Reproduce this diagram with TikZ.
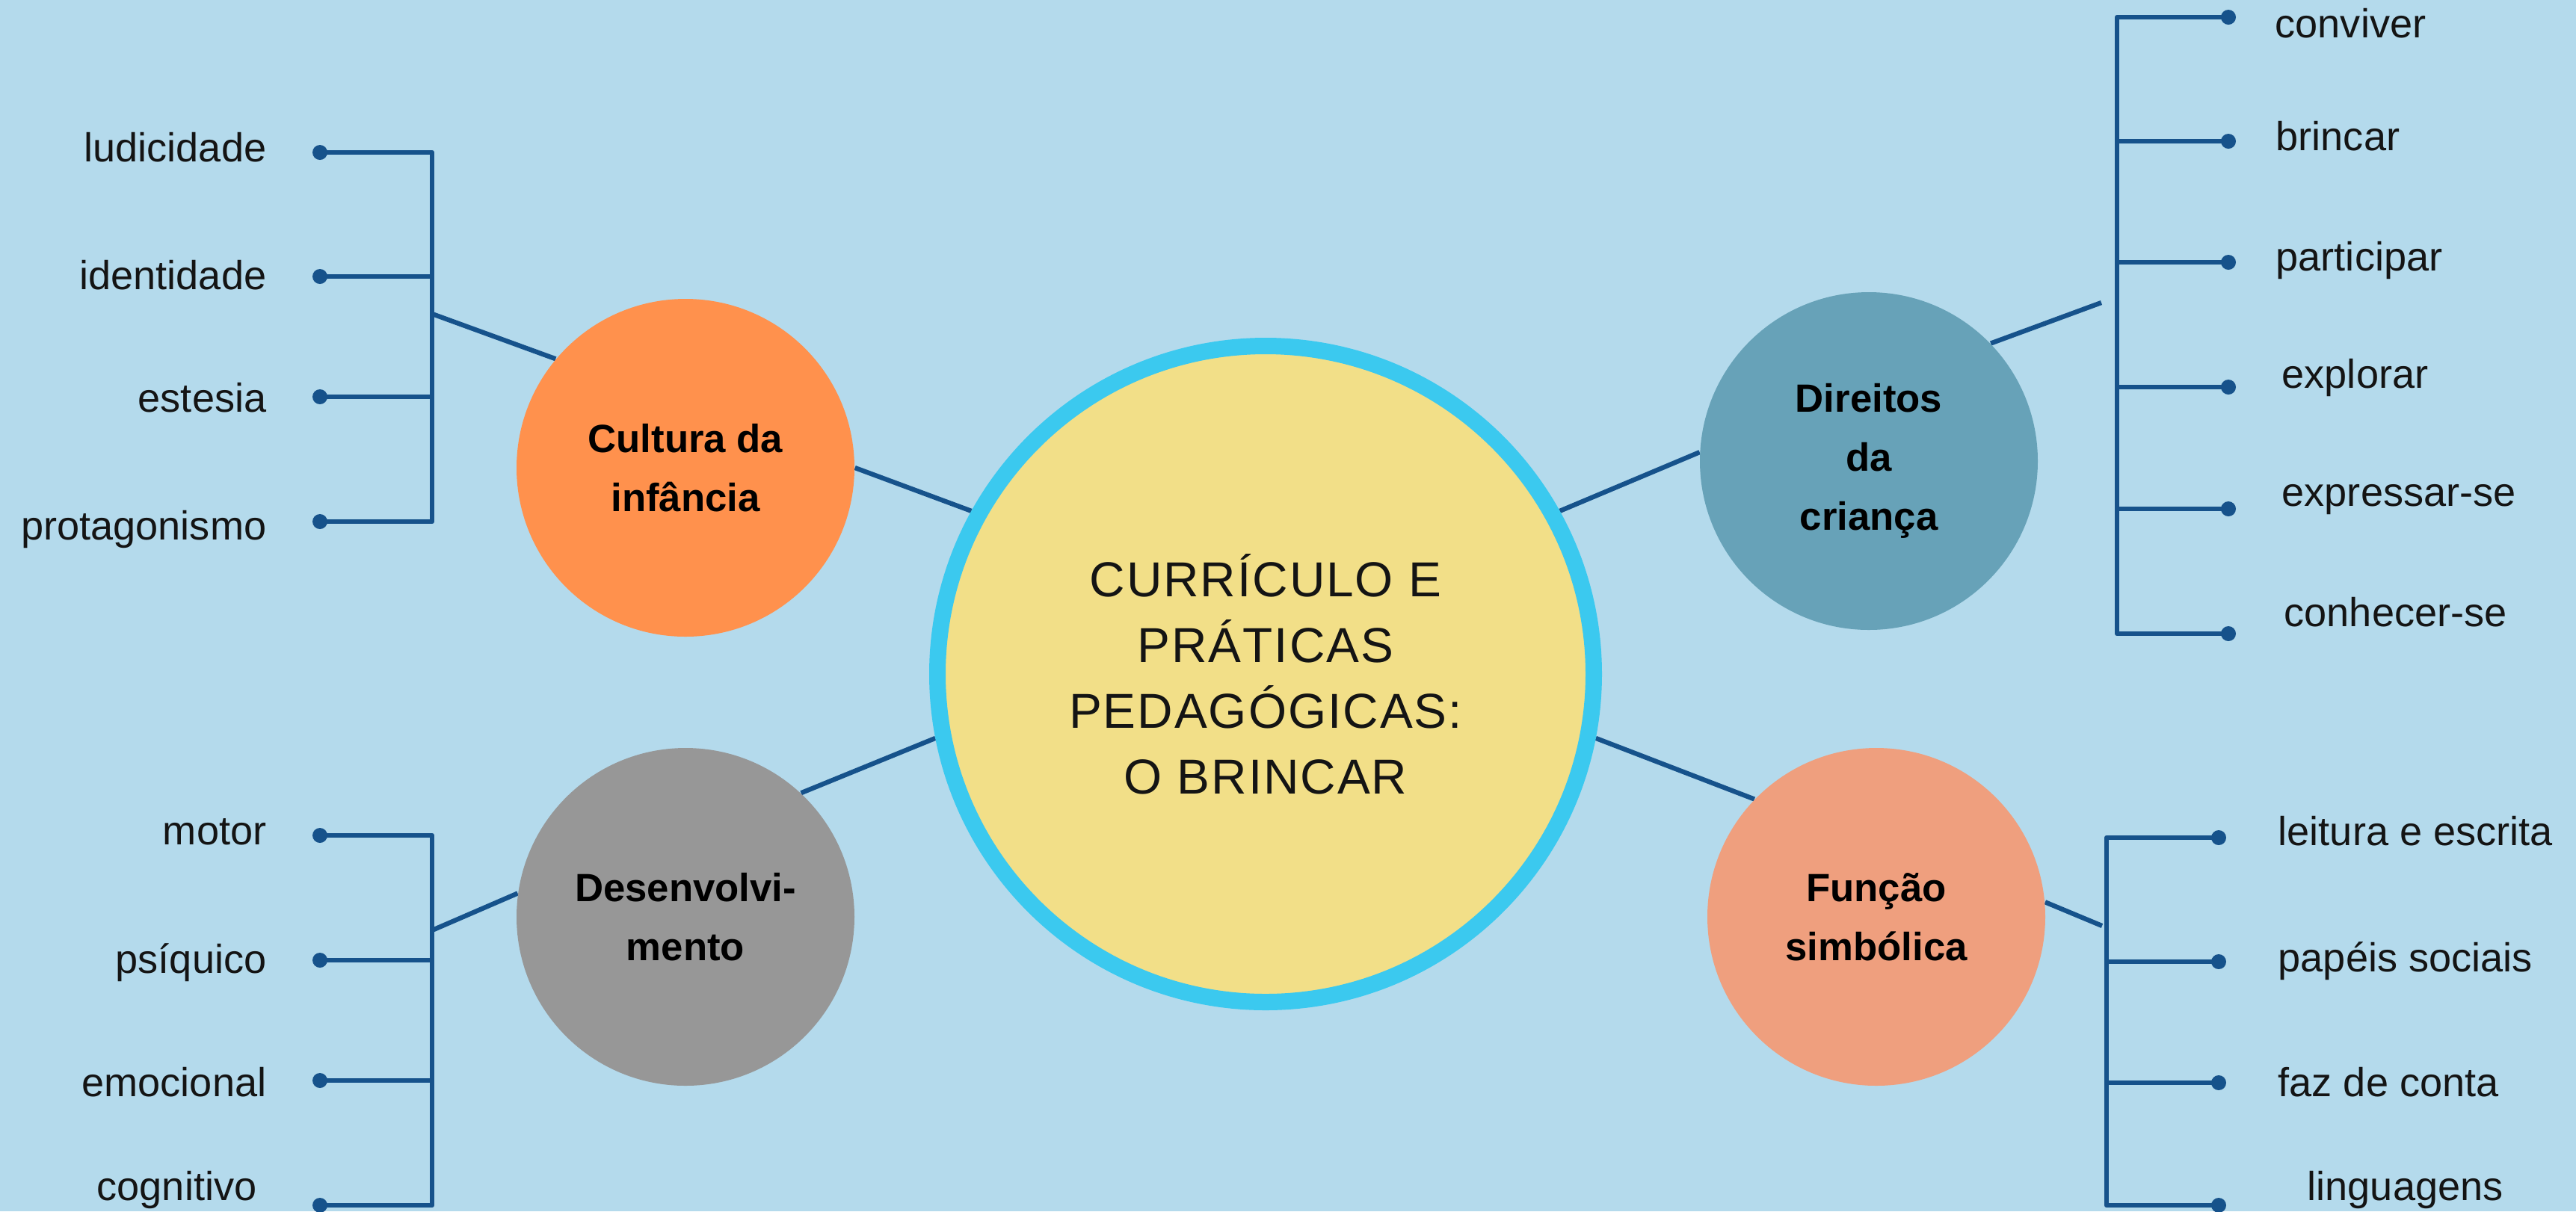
\documentclass[tikz,border=0pt]{standalone}
\usepackage{fontspec}
\setmainfont{Liberation Sans}
\newfontfamily\hubfont[LetterSpace=3]{Liberation Sans}
\definecolor{bg_c}{rgb}{
	0.706, 0.855, 0.925
	}
\definecolor{hub_c}{rgb}{
	0.949, 0.875, 0.533
	}
\definecolor{ring_c}{rgb}{
	0.231, 0.788, 0.937
	}
\definecolor{line_c}{rgb}{
	0.086, 0.322, 0.545
	}
\definecolor{cult_c}{rgb}{
	1.0, 0.569, 0.302
	}
\definecolor{dir_c}{rgb}{
	0.404, 0.635, 0.722
	}
\definecolor{dev_c}{rgb}{
	0.592, 0.592, 0.592
	}
\definecolor{fun_c}{rgb}{
	0.937, 0.624, 0.494
	}
\definecolor{txt_c}{rgb}{
	0.08, 0.08, 0.08
	}
\usetikzlibrary{backgrounds}

\begin{document}
\begin{tikzpicture}[
			hub/.style = {circle, draw=ring_c, line width=0.22cm, fill=hub_c, minimum size=8.78cm, inner sep=0pt, align=center, text=txt_c, font=\hubfont\fontsize{18.7}{25}\selectfont},
			topic/.style = {circle, minimum size=4.52cm, inner sep=0pt, align=center, text=black, font=\bfseries\fontsize{15}{22.5}\selectfont},
			bullet/.style = {circle, fill=line_c, minimum size=0.20cm, inner sep=0pt},
			leaf/.style = {text=txt_c, font=\fontsize{15.4}{18}\selectfont, inner sep=0pt, yshift=-0.05cm},
			link/.style = {line_c, line width=0.063cm, line join=round},
			]
			\useasboundingbox (0,0) rectangle (34.46,-16.21);
			% circles
			\node[hub] (ctr) at (16.93,-9.02) {CURRÍCULO E\\PRÁTICAS\\PEDAGÓGICAS:\\O BRINCAR};
			\node[topic, fill=cult_c] (cult) at (9.17,-6.26) {Cultura da\\infância};
			\node[topic, fill=dev_c] (dev) at (9.17,-12.27) {Desenvolvi-\\mento};
			\node[topic, fill=dir_c] (dir) at (25.00,-6.17) {Direitos\\da\\criança};
			\node[topic, fill=fun_c] (fun) at (25.10,-12.27) {Função\\simbólica};
			% Cultura da infancia
			\coordinate (cs) at (5.78,-2.04);
			\coordinate (ce) at (5.78,-6.98);
			\coordinate (cj) at (5.78,-4.20);
			\foreach \i/\y/\ly/\lbl in {1/2.04/2.02/ludicidade, 2/3.70/3.73/identidade, 3/5.31/5.37/estesia, 4/6.98/7.08/protagonismo}{
				\node[bullet] (cd\i) at (4.28,-\y) {};
				\node[leaf, anchor=mid east] (cl\i) at (3.57,-\ly) {\lbl};
				\draw[link] (cd\i.center) -- (cd\i.center -| cs);
			}
			\draw[link] (cd1.center) -- (cs) -- (ce) -- (cd4.center);
			% Desenvolvimento
			\coordinate (ds) at (5.78,-11.18);
			\coordinate (de) at (5.78,-16.13);
			\coordinate (dj) at (5.78,-12.45);
			\foreach \i/\y/\lx/\ly/\lbl in {1/11.18/3.57/11.16/motor, 2/12.85/3.57/12.88/psíquico, 3/14.46/3.57/14.53/emocional, 4/16.13/3.44/15.92/cognitivo}{
				\node[bullet] (dd\i) at (4.28,-\y) {};
				\node[leaf, anchor=mid east] (dl\i) at (\lx,-\ly) {\lbl};
				\draw[link] (dd\i.center) -- (dd\i.center -| ds);
			}
			\draw[link] (dd1.center) -- (ds) -- (de) -- (dd4.center);
			% Direitos da crianca
			\coordinate (rs) at (28.32,-0.23);
			\coordinate (re) at (28.32,-8.48);
			\coordinate (rj) at (28.11,-4.05);
			\foreach \i/\y/\lx/\ly/\lbl in {1/0.23/30.43/0.36/conviver, 2/1.89/30.44/1.87/brincar, 3/3.51/30.44/3.48/participar, 4/5.18/30.52/5.05/explorar, 5/6.81/30.52/6.63/expressar-se, 6/8.48/30.55/8.24/conhecer-se}{
				\node[bullet] (rd\i) at (29.81,-\y) {};
				\node[leaf, anchor=mid west] (rl\i) at (\lx,-\ly) {\lbl};
				\draw[link] (rd\i.center) -- (rd\i.center -| rs);
			}
			\draw[link] (rd1.center) -- (rs) -- (re) -- (rd6.center);
			% Funcao simbolica
			\coordinate (fs) at (28.18,-11.21);
			\coordinate (fe) at (28.18,-16.13);
			\coordinate (fj) at (28.12,-12.39);
			\foreach \i/\y/\lx/\ly/\lbl in {1/11.21/30.47/11.17/leitura e escrita, 2/12.87/30.47/12.86/papéis sociais, 3/14.49/30.47/14.53/faz de conta, 4/16.13/30.86/15.92/linguagens}{
				\node[bullet] (fd\i) at (29.68,-\y) {};
				\node[leaf, anchor=mid west] (fl\i) at (\lx,-\ly) {\lbl};
				\draw[link] (fd\i.center) -- (fd\i.center -| fs);
			}
			\draw[link] (fd1.center) -- (fs) -- (fe) -- (fd4.center);
			% edges
			\begin{scope}[on background layer]
				\fill[bg_c] (0,0) rectangle (34.46,-16.21);
				\draw[link] (ctr.151) -- (cult.0);
				\draw[link] (ctr.191) -- (dev.47);
				\draw[link] (ctr.29) -- (dir.177);
				\draw[link] (ctr.349) -- (fun.136);
				\draw[link] (cult.140) -- (cj);
				\draw[link] (dev.172) -- (dj);
				\draw[link] (dir.44) -- (rj);
				\draw[link] (fun.5) -- (fj);
			\end{scope}
		\end{tikzpicture}
\end{document}
